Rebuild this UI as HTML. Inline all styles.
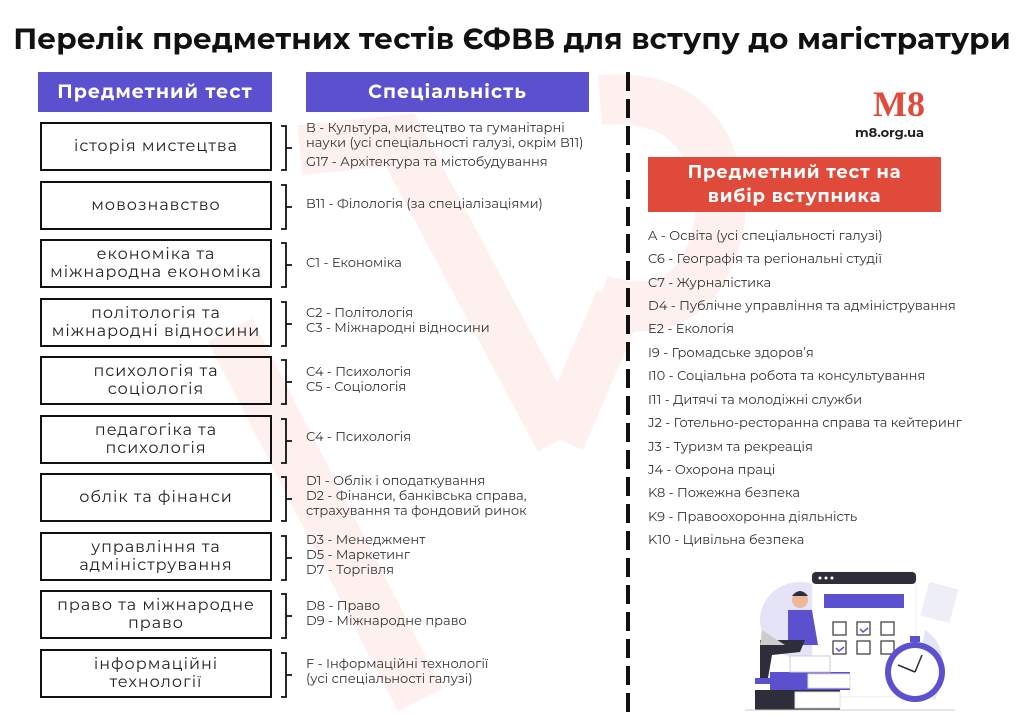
<!DOCTYPE html>
<html><head><meta charset="utf-8"><style>
body{margin:0;width:1024px;height:724px;background:#fff;position:relative;overflow:hidden;font-family:"Montserrat","Liberation Sans","DejaVu Sans",sans-serif;}
.a{position:absolute;}
h1{position:absolute;left:0;width:1024px;top:21px;margin:0;text-align:center;font-size:29.5px;font-weight:bold;color:#111;letter-spacing:0.1px;}
.hd{position:absolute;background:#5b51cf;color:#fff;font-weight:bold;font-size:19px;text-align:center;line-height:40px;letter-spacing:1px;}
.box{position:absolute;left:40px;width:228px;height:45px;border:2.5px solid #111;display:flex;align-items:center;justify-content:center;text-align:center;font-size:16px;line-height:18px;color:#222;letter-spacing:1px;}
.t{position:absolute;left:306px;font-size:13px;color:#333;white-space:nowrap;line-height:15px;}
.r{position:absolute;left:648px;font-size:13px;color:#333;white-space:nowrap;}
</style></head><body>
<svg class="a" style="left:0;top:0" width="1024" height="724">
<g stroke="#fdf0ef" stroke-width="50" fill="none" stroke-linecap="butt">
<path d="M230 330 L420 700"/>
<path d="M300 150 L400 140 L560 440"/>
<path d="M560 440 L620 300"/>
<path d="M600 100 Q720 90 720 220 Q700 330 600 300"/>
</g>
<line x1="628" y1="72" x2="628" y2="716" stroke="#111" stroke-width="4" stroke-dasharray="19,8"/>
</svg>
<h1>Перелік предметних тестів ЄФВВ для вступу до магістратури</h1>
<div class="hd" style="left:38px;top:72px;width:234px;">Предметний тест</div>
<div class="hd" style="left:306px;top:72px;width:283px;">Спеціальність</div>

<div class="box" style="top:122px">історія мистецтва</div>
<div class="box" style="top:181px">мовознавство</div>
<div class="box" style="top:239px">економіка та<br>міжнародна економіка</div>
<div class="box" style="top:298px">політологія та<br>міжнародні відносини</div>
<div class="box" style="top:356px">психологія та<br>соціологія</div>
<div class="box" style="top:415px">педагогіка та<br>психологія</div>
<div class="box" style="top:473px">облік та фінанси</div>
<div class="box" style="top:532px">управління та<br>адміністрування</div>
<div class="box" style="top:590px">право та міжнародне<br>право</div>
<div class="box" style="top:649px">інформаційні<br>технології</div>

<svg class="a" style="left:0;top:0" width="300" height="724">
<g stroke="#111" stroke-width="1.8" fill="none">
<path id="b" d="M281 126 L286 126 L286 170 L281 170 M286 148 L292 148"/>
<use href="#b" y="59"/><use href="#b" y="117"/><use href="#b" y="176"/><use href="#b" y="234"/>
<use href="#b" y="293"/><use href="#b" y="351"/><use href="#b" y="410"/><use href="#b" y="468"/><use href="#b" y="527"/>
</g></svg>

<div class="t" style="top:121px">B - Культура, мистецтво та гуманітарні<br>науки (усі спеціальності галузі, окрім B11)</div>
<div class="t" style="top:155px">G17 - Архітектура та містобудування</div>
<div class="t" style="top:197px">B11 - Філологія (за спеціалізаціями)</div>
<div class="t" style="top:256px">C1 - Економіка</div>
<div class="t" style="top:306px">C2 - Політологія<br>C3 - Міжнародні відносини</div>
<div class="t" style="top:365px">C4 - Психологія<br>C5 - Соціологія</div>
<div class="t" style="top:430px">C4 - Психологія</div>
<div class="t" style="top:474px">D1 - Облік і оподаткування<br>D2 - Фінанси, банківська справа,<br>страхування та фондовий ринок</div>
<div class="t" style="top:533px">D3 - Менеджмент<br>D5 - Маркетинг<br>D7 - Торгівля</div>
<div class="t" style="top:599px">D8 - Право<br>D9 - Міжнародне право</div>
<div class="t" style="top:657px">F - Інформаційні технології<br>(усі спеціальності галузі)</div>

<div class="a" style="left:873px;top:86px;font-family:'Liberation Serif',serif;font-weight:bold;font-size:36px;color:#e04a3a;line-height:36px;">M8</div>
<div class="a" style="left:855px;top:125px;font-weight:bold;font-size:13px;color:#222;">m8.org.ua</div>
<div class="a" style="left:648px;top:157px;width:293px;height:55px;background:#e04a3a;color:#fff;font-weight:bold;font-size:18px;text-align:center;line-height:24px;padding-top:3px;box-sizing:border-box;letter-spacing:0.8px;">Предметний тест на<br>вибір вступника</div>

<div class="r" style="top:228px">A - Освіта (усі спеціальності галузі)</div>
<div class="r" style="top:251px">C6 - Географія та регіональні студії</div>
<div class="r" style="top:275px">C7 - Журналістика</div>
<div class="r" style="top:298px">D4 - Публічне управління та адміністрування</div>
<div class="r" style="top:321px">E2 - Екологія</div>
<div class="r" style="top:345px">I9 - Громадське здоров’я</div>
<div class="r" style="top:368px">I10 - Соціальна робота та консультування</div>
<div class="r" style="top:392px">I11 - Дитячі та молодіжні служби</div>
<div class="r" style="top:415px">J2 - Готельно-ресторанна справа та кейтеринг</div>
<div class="r" style="top:439px">J3 - Туризм та рекреація</div>
<div class="r" style="top:462px">J4 - Охорона праці</div>
<div class="r" style="top:485px">K8 - Пожежна безпека</div>
<div class="r" style="top:509px">K9 - Правоохоронна діяльність</div>
<div class="r" style="top:532px">K10 - Цивільна безпека</div>

<svg class="a" style="left:730px;top:560px" width="230" height="160">
<ellipse cx="70" cy="60" rx="40" ry="38" fill="#e4e3f7"/>
<path d="M195 70 Q225 90 205 140 L185 120 Z" fill="#e4e3f7"/>
<rect x="195" y="25" width="30" height="35" fill="#eeeef8" transform="rotate(15 210 40)"/>
<rect x="82" y="12" width="104" height="125" fill="#fff" stroke="#eee"/>
<rect x="82" y="12" width="104" height="12" rx="4" fill="#2e2d3a"/>
<circle cx="90" cy="18" r="1.5" fill="#fff"/><circle cx="96" cy="18" r="1.5" fill="#fff"/><circle cx="102" cy="18" r="1.5" fill="#fff"/>
<rect x="94" y="34" width="80" height="14" fill="#5b51cf"/>
<g fill="none" stroke="#444" stroke-width="1.3">
<rect x="103" y="62" width="13" height="13"/><rect x="127" y="62" width="13" height="13"/><rect x="151" y="62" width="13" height="13"/>
<rect x="103" y="81" width="13" height="13"/><rect x="127" y="81" width="13" height="13"/><rect x="151" y="81" width="13" height="13"/>
</g>
<path d="M130 69 l3 3 l5 -4 M106 88 l3 3 l5 -4" stroke="#5b51cf" stroke-width="1.5" fill="none"/>
<rect x="25" y="130" width="85" height="20" fill="#2e2d3a"/><rect x="65" y="132" width="45" height="16" fill="#fff" stroke="#ddd"/>
<rect x="40" y="112" width="80" height="18" fill="#5b51cf"/><rect x="78" y="114" width="42" height="14" fill="#fff" stroke="#ddd"/>
<rect x="60" y="96" width="40" height="16" fill="#fff" stroke="#ccc"/>
<circle cx="70" cy="40" r="8" fill="#f0b89a"/><path d="M62 36 Q70 26 78 36 Z" fill="#2e2d3a"/>
<path d="M58 50 L82 50 L88 85 L58 85 Z" fill="#5b51cf"/>
<path d="M30 80 L75 80 L70 92 L42 95 L38 118 L30 118 Z" fill="#2e2d3a"/>
<path d="M25 118 L42 118 L42 124 L25 124 Z" fill="#5b51cf"/>
<path d="M32 70 L55 85 L30 85 Z" fill="#ccc"/>
<circle cx="185" cy="112" r="30" fill="#5b51cf"/><circle cx="185" cy="112" r="24" fill="#fff"/>
<rect x="180" y="76" width="10" height="6" fill="#5b51cf"/>
<path d="M185 112 L168 105 M185 112 L192 95" stroke="#2e2d3a" stroke-width="1.5"/>
<line x1="15" y1="150" x2="225" y2="150" stroke="#ccc"/>
</svg>
</body></html>
